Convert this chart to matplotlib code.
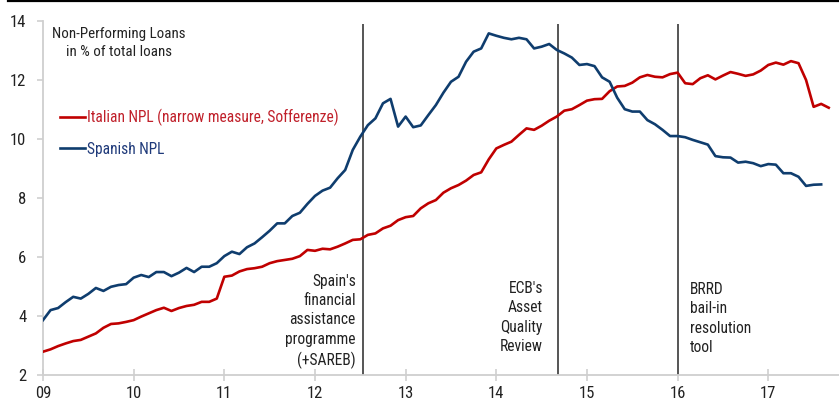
import numpy as np
import matplotlib
matplotlib.use("Agg")
import matplotlib.pyplot as plt
from matplotlib import font_manager
from matplotlib.lines import Line2D

# ============================================================
#  DATA (monthly, % of total loans, from Jan 2009)
# ============================================================
start_year = 2009

italy_npl = [
    2.79, 2.87, 2.98, 3.07, 3.15, 3.19, 3.30, 3.41, 3.60, 3.73, 3.75, 3.80,   # 2009
    3.86, 3.98, 4.09, 4.20, 4.28, 4.17, 4.27, 4.34, 4.38, 4.48, 4.48, 4.59,   # 2010
    5.33, 5.37, 5.51, 5.59, 5.62, 5.67, 5.79, 5.86, 5.90, 5.94, 6.03, 6.24,   # 2011
    6.21, 6.28, 6.26, 6.35, 6.46, 6.58, 6.60, 6.75, 6.80, 6.97, 7.06, 7.25,   # 2012
    7.35, 7.39, 7.65, 7.82, 7.93, 8.18, 8.33, 8.44, 8.59, 8.78, 8.87, 9.31,   # 2013
    9.68, 9.80, 9.91, 10.14, 10.36, 10.31, 10.45, 10.62, 10.76, 10.96, 11.01, 11.15,  # 2014
    11.30, 11.35, 11.36, 11.62, 11.78, 11.80, 11.91, 12.09, 12.17, 12.11, 12.09, 12.20,  # 2015
    12.25, 11.89, 11.86, 12.06, 12.16, 12.02, 12.15, 12.27, 12.21, 12.14, 12.19, 12.32,  # 2016
    12.51, 12.59, 12.52, 12.64, 12.57, 12.00, 11.09, 11.19, 11.06,           # 2017
]

spain_npl = [
    3.86, 4.20, 4.27, 4.47, 4.65, 4.59, 4.75, 4.95, 4.85, 4.99, 5.05, 5.08,   # 2009
    5.30, 5.39, 5.32, 5.49, 5.49, 5.35, 5.47, 5.63, 5.49, 5.67, 5.67, 5.79,   # 2010
    6.03, 6.18, 6.10, 6.33, 6.46, 6.67, 6.89, 7.14, 7.14, 7.39, 7.50, 7.80,   # 2011
    8.07, 8.25, 8.35, 8.67, 8.95, 9.63, 10.08, 10.47, 10.70, 11.21, 11.36, 10.42,  # 2012
    10.76, 10.40, 10.46, 10.81, 11.15, 11.57, 11.94, 12.11, 12.62, 12.96, 13.07, 13.58,  # 2013
    13.50, 13.43, 13.38, 13.43, 13.38, 13.07, 13.13, 13.22, 13.02, 12.90, 12.76, 12.51,  # 2014
    12.54, 12.47, 12.09, 11.94, 11.40, 11.01, 10.93, 10.93, 10.64, 10.50, 10.31, 10.10,  # 2015
    10.10, 10.06, 9.97, 9.89, 9.81, 9.42, 9.38, 9.37, 9.20, 9.23, 9.18, 9.08,  # 2016
    9.15, 9.13, 8.84, 8.84, 8.72, 8.41, 8.45, 8.46,                          # 2017
]

year_ticks = [2009, 2010, 2011, 2012, 2013, 2014, 2015, 2016, 2017]
year_labels = ["09", "10", "11", "12", "13", "14", "15", "16", "17"]
y_ticks = [2, 4, 6, 8, 10, 12, 14]

event_dates = [2012.53, 2014.68, 2016.0]
event_labels = [
    "Spain's\nfinancial\nassistance\nprogramme\n(+SAREB)",
    "ECB's\nAsset\nQuality\nReview",
    "BRRD\nbail-in\nresolution\ntool",
]

RED = "#C00000"
BLUE = "#0F3D6E"
RED_TXT = "#C0202A"
BLUE_TXT = "#1F3A7A"
GREY_AXIS = "#CFCFCF"
TXT = "#222222"


# ============================================================
#  FONT: narrow sans like the original
# ============================================================
def pick_font():
    fl = font_manager.fontManager.ttflist
    for name in ["Roboto Condensed", "Liberation Sans Narrow", "Open Sans Condensed"]:
        if any(f.name == name for f in fl):
            return name, "normal"
    for name in ["Roboto", "Open Sans", "Noto Sans", "DejaVu Sans"]:
        if any(f.name == name and f.stretch in ("condensed", "semi-condensed") for f in fl):
            return name, "condensed"
    return "DejaVu Sans", "normal"


family, stretch = pick_font()
plt.rcParams["font.family"] = [family, "DejaVu Sans"]
plt.rcParams["font.stretch"] = stretch
FS = 11.2      # annotations / legend
FS_TICK = 12
LS = 1.36      # line spacing of multi-line labels

# ============================================================
#  PLOT
# ============================================================
fig = plt.figure(figsize=(8.39, 4.03), dpi=100)
ax = fig.add_axes([43 / 839, 28 / 403, 796 / 839, 354 / 403])

x_it = start_year + np.arange(len(italy_npl)) / 12
x_es = start_year + np.arange(len(spain_npl)) / 12

ax.plot(x_it, italy_npl, color=RED, lw=1.9, solid_joinstyle="round",
        label="Italian NPL (narrow measure, Sofferenze)", zorder=3)
ax.plot(x_es, spain_npl, color=BLUE, lw=1.9, solid_joinstyle="round",
        label="Spanish NPL", zorder=3)

# event markers (va='baseline' on multi-line text pins the last line)
ax.vlines(event_dates, 2, 13.9, color="#555555", lw=1.4, zorder=2)
ax.text(event_dates[0] - 0.08, 2.34, event_labels[0], ha="right", va="baseline",
        multialignment="right", fontsize=FS, color=TXT, linespacing=LS)
ax.text(event_dates[1] - 0.165, 2.81, event_labels[1], ha="right", va="baseline",
        multialignment="right", fontsize=FS, color=TXT, linespacing=LS)
ax.text(event_dates[2] + 0.14, 2.78, event_labels[2], ha="left", va="baseline",
        multialignment="left", fontsize=FS, color=TXT, linespacing=LS)

# title inside the plot
ax.text(0.095, 0.9, "Non-Performing Loans\nin % of total loans", transform=ax.transAxes,
        ha="center", va="baseline", multialignment="center", fontsize=10.8,
        color=TXT, linespacing=LS)

leg = ax.legend(loc="upper left", bbox_to_anchor=(0.021, 0.752), frameon=False,
                handlelength=1.65, handletextpad=0.12, labelspacing=1.0,
                borderpad=0, borderaxespad=0, fontsize=FS, labelcolor=[RED_TXT, BLUE_TXT])

# axes styling
ax.set_xlim(2009, 2017.78)
ax.set_ylim(2, 14)
ax.set_xticks(year_ticks)
ax.set_xticklabels(year_labels)
ax.set_yticks(y_ticks)
for side in ["top", "right"]:
    ax.spines[side].set_visible(False)
for side in ["left", "bottom"]:
    ax.spines[side].set_color(GREY_AXIS)
    ax.spines[side].set_linewidth(1.3)
ax.tick_params(axis="y", direction="out", length=4, width=1.2, color=GREY_AXIS,
               pad=8, labelsize=FS_TICK, labelcolor=TXT)
ax.tick_params(axis="x", direction="inout", length=8, width=1.2, color=GREY_AXIS,
               pad=4, labelsize=FS_TICK, labelcolor=TXT)

# black rule across the top of the figure
fig.add_artist(Line2D([8 / 839, 1], [0.997, 0.997], transform=fig.transFigure,
                      color="black", lw=1.6))

fig.savefig("out.png", dpi=100)
